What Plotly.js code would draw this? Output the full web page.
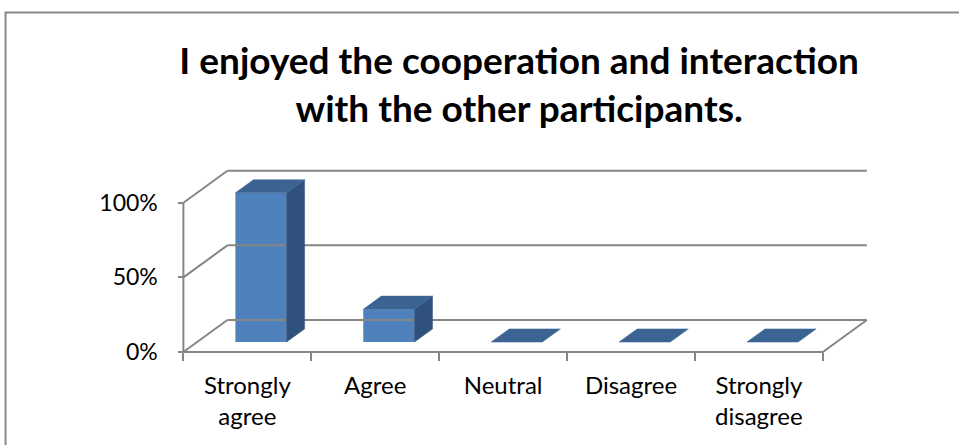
<!DOCTYPE html>
<html>
<head>
<meta charset="utf-8">
<script src="https://cdn.plot.ly/plotly-3.0.1.min.js"></script>
<style>html,body{margin:0;padding:0;background:#fff;}#chart{width:959px;height:445px;}</style>
</head>
<body>
<div id="chart"></div>
<script>
// ---- data ----
const categories = ['Strongly agree', 'Agree', 'Neutral', 'Disagree', 'Strongly disagree'];
const tickLabels = ['Strongly<br>agree', 'Agree', 'Neutral', 'Disagree', 'Strongly<br>disagree'];
const values = [100, 22, 0, 0, 0];
const yTickVals = [0, 50, 100];
const yTickText = ['0%', '50%', '100%'];
const titleText = 'I enjoyed the cooperation and interaction<br>with the other participants.';

// ---- oblique 3-D geometry (in axis units) ----
const DX = 0.344;   // full depth, x shift (categories)
const DY = 21.5;    // full depth, y shift (percent)
const BW = 0.4;     // bar width
const T0 = 0.31, T1 = 0.72; // bar depth (front/back fraction)
const W = 959, H = 445;
const xRange = [-0.05, 5.4], yRange = [-4, 124];
const pxX = 128, pxY = 1.49;
const plotW = (xRange[1] - xRange[0]) * pxX;
const plotH = (yRange[1] - yRange[0]) * pxY;
const mL = 183 + xRange[0] * pxX;
const mR = W - mL - plotW;
const mB = H - (352 - yRange[0] * pxY);
const mT = H - mB - plotH;

const FRONT = '#4F81BD', SIDE = '#30517C', TOP = '#3C6493', GRID = '#868686';
const n = categories.length;
const traces = [];

// frame: back wall gridlines, left wall diagonals, floor
const fx = [], fy = [];
yTickVals.forEach(v => { fx.push(DX, n + DX, null); fy.push(v + DY, v + DY, null); });
yTickVals.forEach(v => { fx.push(0, DX, null); fy.push(v, v + DY, null); });
fx.push(0, 0, null); fy.push(0, yTickVals[yTickVals.length - 1], null);
fx.push(0, n, n + DX, null); fy.push(0, 0, DY, null);
traces.push({type: 'scatter', mode: 'lines', x: fx, y: fy, line: {color: GRID, width: 2},
  hoverinfo: 'skip', showlegend: false, cliponaxis: false});

const ddx = (T1 - T0) * DX, ddy = (T1 - T0) * DY;
// side faces
values.forEach((v, i) => {
  if (v <= 0) return;
  const xr = i + 0.5 + BW / 2 + T0 * DX, yb = T0 * DY, yt = v + T0 * DY;
  traces.push({type: 'scatter', mode: 'lines', fill: 'toself', fillcolor: SIDE,
    x: [xr, xr + ddx, xr + ddx, xr, xr], y: [yb, yb + ddy, yt + ddy, yt, yb],
    line: {width: 0.5, color: SIDE}, hoverinfo: 'skip', showlegend: false});
});
// top faces
values.forEach((v, i) => {
  const xl = i + 0.5 - BW / 2 + T0 * DX, xr = xl + BW, yt = v + T0 * DY;
  traces.push({type: 'scatter', mode: 'lines', fill: 'toself', fillcolor: TOP,
    x: [xl, xr, xr + ddx, xl + ddx, xl], y: [yt, yt, yt + ddy, yt + ddy, yt],
    line: {width: 0.5, color: TOP}, hoverinfo: 'skip', showlegend: false});
});
// front faces
traces.push({type: 'bar', x: values.map((v, i) => i + 0.5 + T0 * DX), y: values,
  base: values.map(() => T0 * DY), width: BW, marker: {color: FRONT, line: {width: 0}},
  text: categories, hoverinfo: 'text+y', textposition: 'none', showlegend: false});

const layout = {
  width: W, height: H,
  margin: {l: mL, r: mR, t: mT, b: mB, pad: 0},
  paper_bgcolor: '#fff', plot_bgcolor: 'rgba(0,0,0,0)',
  font: {family: 'Lato, sans-serif', color: '#000'},
  showlegend: false,
  title: {text: titleText, font: {family: 'Lato', size: 37, weight: 'bold', color: '#000'},
    xref: 'paper', x: (519 - mL) / plotW, xanchor: 'center',
    yref: 'container', y: 1 - 74 / H, yanchor: 'top'},
  xaxis: {range: xRange, anchor: 'free', position: (0 - yRange[0]) / (yRange[1] - yRange[0]),
    tickmode: 'array', tickvals: values.map((v, i) => i + 0.5), ticktext: tickLabels,
    ticks: '', ticklabelstandoff: 17, tickfont: {size: 24, family: 'Lato'},
    showgrid: false, zeroline: false, showline: false, fixedrange: true,
    minor: {tickmode: 'array', tickvals: [0, 1, 2, 3, 4, 5], ticks: 'outside', ticklen: 8, tickwidth: 2, tickcolor: GRID, showgrid: false}},
  yaxis: {range: yRange, anchor: 'free', position: (0 - xRange[0]) / (xRange[1] - xRange[0]),
    tickmode: 'array', tickvals: yTickVals, ticktext: yTickText,
    ticks: 'outside', ticklen: 5, tickwidth: 2, tickcolor: GRID, ticklabelstandoff: 16,
    tickfont: {size: 23, family: 'Lato'},
    showgrid: false, zeroline: false, showline: false, fixedrange: true},
  shapes: [{type: 'rect', xref: 'paper', yref: 'paper',
    x0: (5 - mL) / plotW, x1: (970 - mL) / plotW,
    y0: (H - mB - 460) / plotH, y1: (H - mB - 13) / plotH,
    line: {color: '#898989', width: 2}, fillcolor: 'rgba(0,0,0,0)', layer: 'below'}]
};

Plotly.newPlot('chart', traces, layout, {staticPlot: true, displayModeBar: false});
</script>
</body>
</html>
